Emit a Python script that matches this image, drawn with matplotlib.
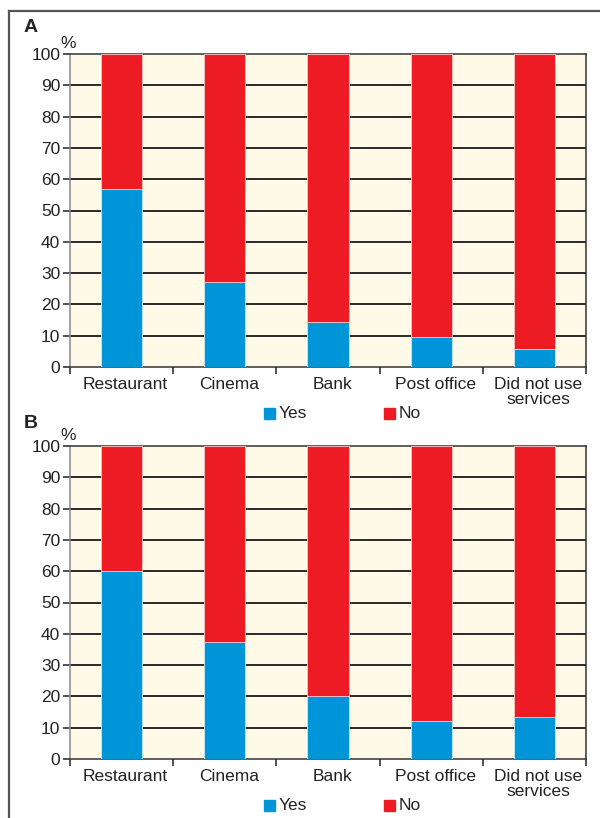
import matplotlib
matplotlib.use('Agg')
import matplotlib.pyplot as plt
from matplotlib.lines import Line2D
from matplotlib.patches import Rectangle
import matplotlib.transforms as mtransforms
import numpy as np

plt.rcParams['font.family'] = ['Liberation Sans', 'DejaVu Sans']

categories = ['Restaurant', 'Cinema', 'Bank', 'Post office', 'Did not use\nservices']
yes_a = [57, 27, 14.5, 9.7, 5.7]
yes_b = [60, 37.5, 20, 12, 13.3]
panel_names = ['A', 'B']
yticks = list(range(0, 101, 10))

blue = '#0095d9'
red = '#ed1c24'
cream = '#fffae8'

fig = plt.figure(figsize=(6, 8.18), dpi=100)

# outer frame (cut off on the right and bottom like the reference)
fig.add_artist(Line2D([9/600, 9/600], [0, 1 - 11/818], transform=fig.transFigure,
                      color='#555555', lw=1.6))
fig.add_artist(Line2D([9/600, 1], [1 - 11/818, 1 - 11/818], transform=fig.transFigure,
                      color='#555555', lw=1.6))

ax_w = 516/600
ax_h = 313/818
bottoms = [(818 - 367)/818, (818 - 759)/818]
letter_gap = [26, 23]

for name, yes, bot, lg in zip(panel_names, [yes_a, yes_b], bottoms, letter_gap):
    ax = fig.add_axes([70/600, bot, ax_w, ax_h])
    ax.set_facecolor(cream)
    x = np.arange(len(categories))
    no = [100 - v for v in yes]
    ax.bar(x, yes, width=0.4, color=blue, edgecolor='#cfeaf7', linewidth=0.6, zorder=3)
    ax.bar(x, no, bottom=yes, width=0.4, color=red, edgecolor='#f7c9cb', linewidth=0.6, zorder=3)
    ax.set_xlim(-0.5, len(categories) - 0.5)
    ax.set_ylim(0, 100)
    ax.set_yticks(yticks)
    ax.set_yticklabels([str(t) for t in yticks], fontsize=12.5, color='#222222')
    for t in yticks[1:-1]:
        ax.axhline(t, color='#1a1a1a', lw=1.3, zorder=1)
    # category labels between boundary ticks
    ax.set_xticks(np.arange(-0.5, len(categories), 1.0))
    ax.set_xticklabels([])
    ax.tick_params(axis='x', length=5, width=1.2, color='#333333', direction='out')
    ax.tick_params(axis='y', length=5, width=1.2, color='#333333', direction='out', pad=2)
    offset = mtransforms.ScaledTranslation(4/100, -10/100, fig.dpi_scale_trans)
    for i, c in enumerate(categories):
        ax.text(i, 0, c, transform=ax.get_xaxis_transform() + offset,
                ha='center', va='top', fontsize=12.5, color='#222222', linespacing=1.0)
    for s in ax.spines.values():
        s.set_color('#333333')
        s.set_linewidth(1.1)
    ax.spines['left'].set_color('#888888')

    # panel letter and unit
    top_px = 818 - (bot + ax_h)*818
    fig.text(24/600, 1 - (top_px - lg)/818, name, fontsize=14, fontweight='bold',
             ha='left', va='center', color='#222222')
    fig.text(68/600, 1 - (top_px - 11)/818, '%', fontsize=12.5,
             ha='center', va='center', color='#222222')

    # legend row
    ly = 1 - (top_px + 313 + 46.5)/818
    sq = 11
    for lx, col, lab in [(264, blue, 'Yes'), (384, red, 'No')]:
        fig.add_artist(Rectangle((lx/600, ly - sq/2/818), sq/600, sq/818,
                                 transform=fig.transFigure, color=col))
        fig.text((lx + 15)/600, ly, lab, fontsize=12.5, ha='left', va='center', color='#222222')

fig.savefig('out.png', dpi=100)
